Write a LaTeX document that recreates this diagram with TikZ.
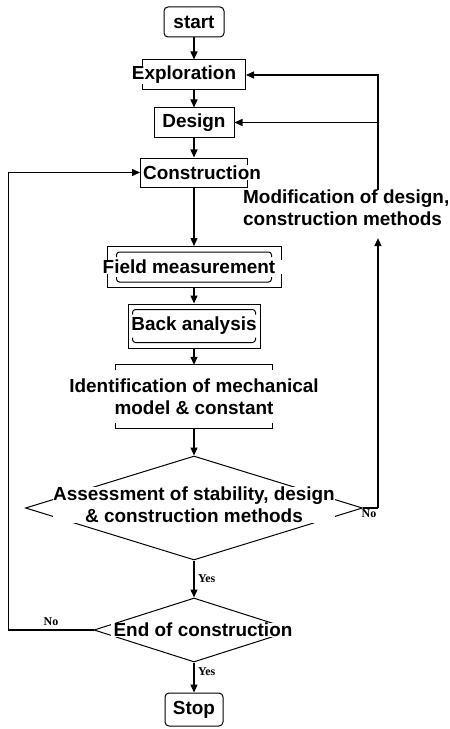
\documentclass[tikz,border=0pt]{standalone}
\usepackage{fontspec}
\setmainfont{Liberation Sans}
\newfontfamily\yesnofont{Liberation Serif}
\usetikzlibrary{arrows.meta,shapes.geometric}

\begin{document}
\begin{tikzpicture}[x=1bp, y=-1bp, font=\fontsize{19}{22}\selectfont\bfseries,
	box/.style={draw, line width=1bp, inner sep=0pt},
	boxtext/.style={fill=white, inner sep=0.5bp},
	decision/.style={diamond, draw, line width=1bp, inner sep=0pt},
	arr/.style={line width=1.4bp, -{Triangle[length=8bp,width=7bp]}},
	branch/.style={font=\yesnofont\fontsize{12}{14}\selectfont\bfseries}]
	\useasboundingbox (0,0) rectangle (450,729);

	\node[box, rounded corners=4bp, minimum width=60bp, minimum height=30bp] (start) at (194,22) {start};
	\node[box, minimum width=103bp, minimum height=30bp, label={[boxtext, xshift=-10bp]center:Exploration}] (explore) at (194,75) {};
	\node[box, minimum width=80bp, minimum height=29bp] (design) at (194,122.5) {Design};
	\node[box, minimum width=107bp, minimum height=29bp, label={[boxtext, xshift=8bp]center:Construction}] (constr) at (194,172.5) {};
	\node[align=left, anchor=west, inner sep=0pt] (modif) at (243,208) {Modification of design,\\construction methods};

	\node[box, minimum width=174bp, minimum height=41bp, label={[boxtext, xshift=-5bp, inner xsep=7bp, inner ysep=0pt]center:Field measurement}] (field) at (194,267) {};
	\node[box, minimum width=132bp, minimum height=44bp] (back) at (194,326) {Back analysis};
	\node[minimum width=156bp, minimum height=63bp, inner sep=0pt, label={[align=center]center:Identification of mechanical\\model \& constant}] (ident) at (194,396.5) {};

	\node[decision, minimum width=337bp, minimum height=104bp, label={[boxtext, align=center, yshift=3bp]center:Assessment of stability, design\\\& construction methods}] (assess) at (194,508) {};
	\node[decision, minimum width=200bp, minimum height=64bp, label={[boxtext, inner xsep=3bp, xshift=9bp]center:End of construction}] (endc) at (194,630) {};
	\node[box, rounded corners=4bp, minimum width=58bp, minimum height=33bp] (stop) at (194,709.5) {Stop};

	% rounded braces inside the boxes
	\foreach \n/\dx in {field/10, back/5}{
		\draw[line width=1bp, rounded corners=3bp] ([shift={(\dx,11)}]\n.north west) -- ([shift={(\dx,6)}]\n.north west) -- ([shift={(-\dx,6)}]\n.north east) -- ([shift={(-\dx,11)}]\n.north east);
		\draw[line width=1bp, rounded corners=3bp] ([shift={(\dx,-11)}]\n.south west) -- ([shift={(\dx,-6)}]\n.south west) -- ([shift={(-\dx,-6)}]\n.south east) -- ([shift={(-\dx,-11)}]\n.south east);
	}
	\draw[line width=1bp] ([shift={(0,5)}]ident.north west) -- (ident.north west) -- (ident.north east) -- ([shift={(0,5)}]ident.north east);
	\draw[line width=1bp] ([shift={(0,-5)}]ident.south west) -- (ident.south west) -- (ident.south east) -- ([shift={(0,-5)}]ident.south east);

	\draw[arr] (start) -- (explore);
	\draw[arr] (explore) -- (design);
	\draw[arr] (design) -- (constr);
	\draw[arr] (constr) -- (field);
	\draw[arr] (field) -- (back);
	\draw[arr] (back) -- (ident);
	\draw[arr] (ident) -- (assess);
	\draw[arr] (assess) -- node[branch, right] {Yes} (endc);
	\draw[arr] (endc) -- node[branch, right, pos=0.3] {Yes} (stop);

	\draw[arr] (endc.west) -- node[branch, above] {No} ++(-85,0) |- (constr.west);
	\draw[line width=1.4bp] (assess.east) -- ++(15,0) coordinate (turn) node[branch, anchor=north east, inner sep=1bp, pos=1] {No};
	\draw[arr, shorten >=12bp] (turn) -- (turn |- modif.south);
	\draw[arr] (turn |- modif.north) |- (explore.east);
	\draw[arr] (turn |- design.east) -- (design.east);
\end{tikzpicture}
\end{document}
